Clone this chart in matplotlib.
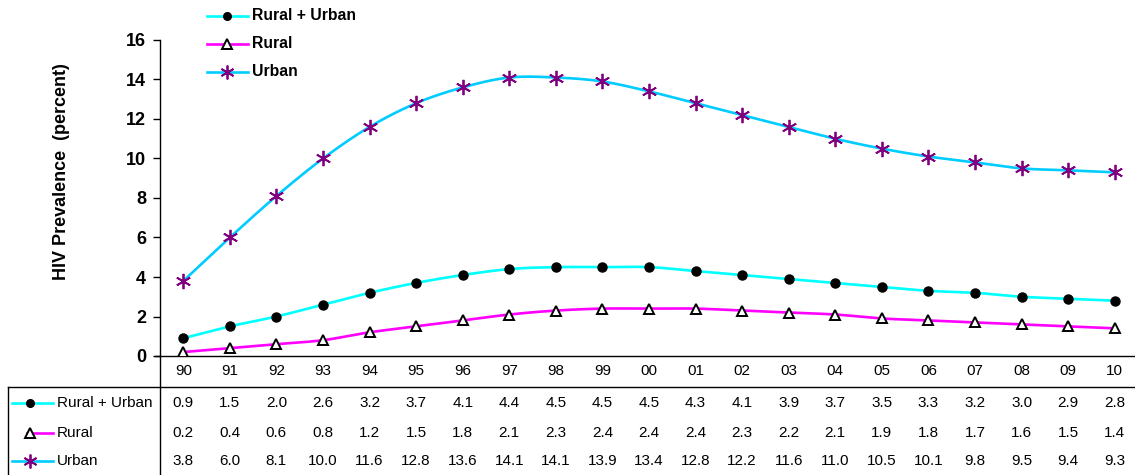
import matplotlib.pyplot as plt
import numpy as np
from matplotlib.lines import Line2D

plt.rcParams['font.family'] = ['Liberation Sans', 'DejaVu Sans']

years = ['90', '91', '92', '93', '94', '95', '96', '97', '98', '99', '00',
         '01', '02', '03', '04', '05', '06', '07', '08', '09', '10']
rural_urban = [0.9, 1.5, 2.0, 2.6, 3.2, 3.7, 4.1, 4.4, 4.5, 4.5, 4.5,
               4.3, 4.1, 3.9, 3.7, 3.5, 3.3, 3.2, 3.0, 2.9, 2.8]
rural = [0.2, 0.4, 0.6, 0.8, 1.2, 1.5, 1.8, 2.1, 2.3, 2.4, 2.4,
         2.4, 2.3, 2.2, 2.1, 1.9, 1.8, 1.7, 1.6, 1.5, 1.4]
urban = [3.8, 6.0, 8.1, 10.0, 11.6, 12.8, 13.6, 14.1, 14.1, 13.9, 13.4,
         12.8, 12.2, 11.6, 11.0, 10.5, 10.1, 9.8, 9.5, 9.4, 9.3]
series_names = ['Rural + Urban', 'Rural', 'Urban']

W, H = 1135, 475


def smooth(xs, ys, n=20):
    # bezier segments with catmull-rom style control points (spreadsheet "smoothed line")
    p = np.column_stack([xs, ys]).astype(float)
    p = np.vstack([p[0], p, p[-1]])
    out = []
    for i in range(1, len(p) - 2):
        p0, p1, p2, p3 = p[i - 1], p[i], p[i + 1], p[i + 2]
        c1 = p1 + (p2 - p0) / 6
        c2 = p2 - (p3 - p1) / 6
        t = np.linspace(0, 1, n)[:, None]
        seg = ((1 - t) ** 3 * p1 + 3 * (1 - t) ** 2 * t * c1
               + 3 * (1 - t) * t ** 2 * c2 + t ** 3 * p2)
        out.append(seg if i == 1 else seg[1:])
    out = np.vstack(out)
    return out[:, 0], out[:, 1]


styles = [
    dict(color='#00FFFF', marker='o', ms=6.5, mfc='black', mec='black', mew=1.0),
    dict(color='#FF00FF', marker='^', ms=7.5, mfc='white', mec='black', mew=1.4),
    dict(color='#00CCFF', marker=(6, 2, 0), ms=11, mfc='#800080', mec='#800080', mew=1.3),
]

fig = plt.figure(figsize=(W / 100, H / 100), dpi=100)
ax = fig.add_axes([160 / W, 1 - 356 / H, (1138 - 160) / W, 316 / H])

x = np.arange(len(years))
for vals, st in zip([rural_urban, rural, urban], styles):
    sx, sy = smooth(x, vals)
    ax.plot(sx, sy, color=st['color'], lw=1.9, solid_capstyle='round', zorder=2)
    ax.plot(x, vals, ls='none', marker=st['marker'], ms=st['ms'], mfc=st['mfc'],
            mec=st['mec'], mew=st['mew'], zorder=3)

ax.set_xlim(-0.5, len(years) - 0.5)
ax.set_ylim(0, 16)
ax.set_yticks(range(0, 17, 2))
ax.tick_params(axis='y', length=5, width=1, pad=5, labelsize=13)
for lab in ax.get_yticklabels():
    lab.set_fontweight('bold')
ax.set_xticks(x)
ax.set_xticklabels(years, fontsize=11)
ax.tick_params(axis='x', length=0, pad=6)
for s in ['top', 'right']:
    ax.spines[s].set_visible(False)
ax.spines['left'].set_visible(False)
ax.spines['bottom'].set_linewidth(1.0)

fig.text(62 / W, 1 - 172 / H, 'HIV Prevalence  (percent)', rotation=90,
         ha='center', va='center', fontsize=13, fontweight='bold')

# axis line continuing down through the data table, plus table frame
fig.add_artist(Line2D([160 / W, 160 / W], [0, 1 - 40 / H], color='black', lw=1.0))
fig.add_artist(Line2D([155 / W, 160 / W], [1 - 356 / H, 1 - 356 / H], color='black', lw=1.0))
fig.add_artist(Line2D([8 / W, 1], [1 - 387 / H, 1 - 387 / H], color='black', lw=1.0))
fig.add_artist(Line2D([8 / W, 8 / W], [0, 1 - 387 / H], color='black', lw=1.0))


def key(x0, x1, xm, y, st):
    fig.add_artist(Line2D([x0 / W, x1 / W], [1 - y / H, 1 - y / H], color=st['color'], lw=1.9))
    fig.add_artist(Line2D([xm / W], [1 - y / H], ls='none', marker=st['marker'],
                          ms=st['ms'] - 1, mfc=st['mfc'], mec=st['mec'], mew=st['mew']))


# top legend
for name, st, y in zip(series_names, styles, [16, 44, 72]):
    key(207, 248, 227, y, st)
    fig.text(252 / W, 1 - y / H, name, ha='left', va='center', fontsize=11.3, fontweight='bold')

# data table rows
row_y = [403, 433, 461]
key_start = [12, 27, 12]
for name, st, vals, y, x0 in zip(series_names, styles, [rural_urban, rural, urban], row_y, key_start):
    key(x0, 53, 30, y, st)
    fig.text(57 / W, 1 - y / H, name, ha='left', va='center', fontsize=11)
    for xi, v in zip(x, vals):
        ax.text(xi, (356 - y) / 316, f'{v:.1f}', transform=ax.get_xaxis_transform(),
                ha='center', va='center', fontsize=11, clip_on=False)

fig.savefig('out.png', dpi=100)
